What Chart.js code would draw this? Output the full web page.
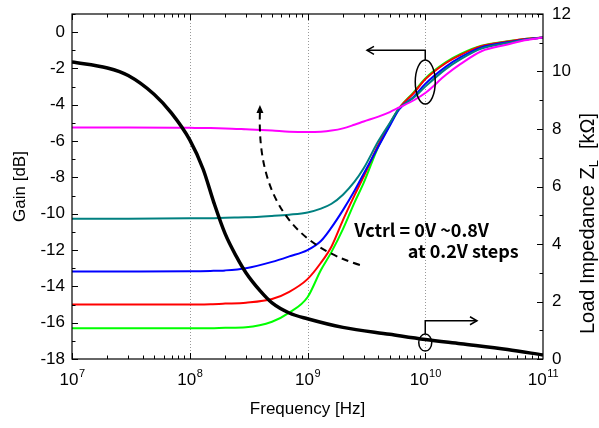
<!DOCTYPE html>
<html>
<head>
<meta charset="utf-8">
<script src="https://cdn.jsdelivr.net/npm/chart.js@4/dist/chart.umd.min.js"></script>
<style>
html, body { margin: 0; padding: 0; background: #fff; }
#wrap { width: 599px; height: 428px; }
</style>
</head>
<body>
<div id="wrap"><canvas id="chartCanvas"></canvas></div>
<script>
// frequency points (Hz) for the gain curves
const freqGain = [1e7, 3e7, 1e8, 1.5e8, 2e8, 3e8, 5e8, 7e8, 1e9, 1.3e9, 1.6e9, 2e9, 2.5e9, 3e9,
                  4e9, 5e9, 6e9, 8e9, 1e10, 1.5e10, 2e10, 3e10, 5e10, 7e10, 1e11];

// gain [dB], one array per Vctrl step
const gainMagenta = [-5.25, -5.25, -5.27, -5.28, -5.3, -5.35, -5.42, -5.48, -5.5, -5.48, -5.42, -5.3, -5.1, -4.92,
                     -4.65, -4.4, -4.15, -3.75, -3.35, -2.35, -1.75, -1.05, -0.68, -0.45, -0.3];
const gainTeal = [-10.27, -10.27, -10.25, -10.25, -10.22, -10.2, -10.12, -10.05, -9.93, -9.72, -9.45, -8.95, -8.25, -7.5,
                  -6.0, -5.0, -4.2, -3.6, -3.0, -2.02, -1.48, -0.9, -0.6, -0.42, -0.3];
const gainBlue = [-13.18, -13.18, -13.17, -13.15, -13.12, -13.0, -12.65, -12.35, -12.0, -11.5, -10.75, -9.8, -8.75, -7.8,
                  -6.3, -5.15, -4.25, -3.55, -2.85, -1.9, -1.38, -0.84, -0.56, -0.4, -0.3];
const gainRed = [-15.0, -15.0, -15.0, -14.98, -14.95, -14.9, -14.7, -14.3, -13.6, -12.7, -11.8, -10.35, -9.0, -7.95,
                 -6.2, -5.05, -4.2, -3.35, -2.6, -1.7, -1.25, -0.77, -0.52, -0.38, -0.3];
const gainGreen = [-16.3, -16.3, -16.3, -16.3, -16.28, -16.25, -15.95, -15.45, -14.6, -13.1, -12.1, -10.85, -9.4, -8.3,
                   -6.3, -5.1, -4.2, -3.3, -2.55, -1.65, -1.2, -0.75, -0.5, -0.37, -0.3];

// load impedance (kOhm)
const freqZ = [1e7, 2e7, 3e7, 5e7, 7e7, 1e8, 1.3e8, 1.6e8, 2e8, 2.5e8, 3e8, 4e8, 5e8, 7e8, 1e9, 2e9, 5e9,
               1e10, 2e10, 5e10, 1e11];
const loadZ = [10.33, 10.12, 9.86, 9.2, 8.55, 7.62, 6.6, 5.45, 4.35, 3.55, 3.0, 2.35, 1.95, 1.6, 1.4, 1.1, 0.86,
               0.68, 0.53, 0.33, 0.14];

const decades = [1e7, 1e8, 1e9, 1e10, 1e11];
const gainTicks = [-18, -16, -14, -12, -10, -8, -6, -4, -2, 0];
const zTicks = [0, 2, 4, 6, 8, 10, 12];

const FONT = 'Arial, "Liberation Sans", sans-serif';

function pts(xs, ys) {
    return xs.map((x, i) => ({ x: x, y: ys[i] }));
}

function line(ctx, x1, y1, x2, y2) {
    ctx.beginPath();
    ctx.moveTo(x1, y1);
    ctx.lineTo(x2, y2);
    ctx.stroke();
}

const decor = {
    id: "decor",
    beforeDatasetsDraw(chart) {
        const { ctx, chartArea: a, scales } = chart;
        ctx.save();
        ctx.strokeStyle = "#999";
        ctx.lineWidth = 1;
        ctx.setLineDash([1, 2]);
        decades.slice(1, -1).forEach(f => {
            const px = Math.round(scales.x.getPixelForValue(f)) + 0.5;
            line(ctx, px, a.top, px, a.bottom);
        });
        ctx.restore();
    },
    afterDraw(chart) {
        const { ctx, chartArea: a, scales } = chart;
        const x = scales.x, g = scales.gain, z = scales.z;
        ctx.save();

        // frame
        ctx.strokeStyle = "#000";
        ctx.lineWidth = 1.2;
        ctx.strokeRect(a.left, a.top, a.right - a.left, a.bottom - a.top);

        // x ticks (inward, top and bottom)
        ctx.lineWidth = 1;
        for (let e = 7; e < 11; e++) {
            for (let k = 1; k <= 9; k++) {
                const px = Math.round(x.getPixelForValue(k * Math.pow(10, e))) + 0.5;
                const len = k === 1 ? 6 : 3.5;
                line(ctx, px, a.bottom, px, a.bottom - len);
                line(ctx, px, a.top, px, a.top + len);
            }
        }
        // y ticks
        for (let v = -18; v <= 1; v++) {
            const py = Math.round(g.getPixelForValue(v)) + 0.5;
            line(ctx, a.left, py, a.left + (v % 2 === 0 ? 6 : 3.5), py);
        }
        for (let v = 0; v <= 12; v++) {
            const py = Math.round(z.getPixelForValue(v)) + 0.5;
            line(ctx, a.right, py, a.right - (v % 2 === 0 ? 6 : 3.5), py);
        }

        // x tick labels 10^n
        ctx.fillStyle = "#000";
        ctx.textBaseline = "alphabetic";
        ctx.textAlign = "left";
        decades.forEach(f => {
            const px = x.getPixelForValue(f);
            const exp = String(Math.round(Math.log10(f)));
            ctx.font = "17px " + FONT;
            const wb = ctx.measureText("10").width;
            ctx.font = "11px " + FONT;
            const we = ctx.measureText(exp).width;
            const start = px - (wb + we) / 2;
            ctx.font = "17px " + FONT;
            ctx.fillText("10", start, a.bottom + 26);
            ctx.font = "11px " + FONT;
            ctx.fillText(exp, start + wb + 0.5, a.bottom + 18);
        });

        // right axis title with subscript
        ctx.save();
        ctx.translate(588, (a.top + a.bottom) / 2 + 37);
        ctx.rotate(-Math.PI / 2);
        ctx.textBaseline = "middle";
        const p1 = "Load Impedance Z", p2 = "L", p3 = "  [k\u03A9]";
        ctx.font = "20px " + FONT;
        const w1 = ctx.measureText(p1).width, w3 = ctx.measureText(p3).width;
        ctx.font = "13px " + FONT;
        const w2 = ctx.measureText(p2).width;
        let sx = -(w1 + w2 + w3) / 2;
        ctx.font = "20px " + FONT;
        ctx.fillText(p1, sx, 0);
        ctx.font = "13px " + FONT;
        ctx.fillText(p2, sx + w1, 6);
        ctx.font = "20px " + FONT;
        ctx.fillText(p3, sx + w1 + w2, 0);
        ctx.restore();

        // gain-curves marker: ellipse + arrow to the left
        ctx.lineWidth = 1.5;
        ctx.strokeStyle = "#000";
        const ex = x.getPixelForValue(1e10), ey = g.getPixelForValue(-2.75);
        ctx.beginPath();
        ctx.ellipse(ex, ey, 10, 22, 0, 0, Math.PI * 2);
        ctx.stroke();
        const ay = g.getPixelForValue(-1.0), ax = x.getPixelForValue(3.2e9);
        ctx.beginPath();
        ctx.moveTo(ex, ey - 22);
        ctx.lineTo(ex, ay);
        ctx.lineTo(ax, ay);
        ctx.stroke();
        ctx.beginPath();
        ctx.moveTo(ax + 7, ay - 4);
        ctx.lineTo(ax, ay);
        ctx.lineTo(ax + 7, ay + 4);
        ctx.stroke();

        // impedance marker: small ellipse + arrow to the right
        const zx = x.getPixelForValue(1e10), zy = z.getPixelForValue(0.57);
        ctx.beginPath();
        ctx.ellipse(zx, zy, 6.5, 8.5, 0, 0, Math.PI * 2);
        ctx.stroke();
        const by = z.getPixelForValue(1.33), bx = x.getPixelForValue(2.75e10);
        ctx.beginPath();
        ctx.moveTo(zx, zy - 8.5);
        ctx.lineTo(zx, by);
        ctx.lineTo(bx, by);
        ctx.stroke();
        ctx.beginPath();
        ctx.moveTo(bx - 7, by - 4);
        ctx.lineTo(bx, by);
        ctx.lineTo(bx - 7, by + 4);
        ctx.stroke();

        // dashed curved arrow (Vctrl direction)
        const s0x = x.getPixelForValue(Math.pow(10, 9.445)), s0y = g.getPixelForValue(-12.82);
        const s1x = x.getPixelForValue(Math.pow(10, 8.596)), s1y = g.getPixelForValue(-4.4);
        const cx = x.getPixelForValue(Math.pow(10, 8.56)), cy = g.getPixelForValue(-11.1);
        ctx.lineWidth = 2;
        ctx.setLineDash([7, 5]);
        ctx.beginPath();
        ctx.moveTo(s0x, s0y);
        ctx.quadraticCurveTo(cx, cy, s1x, s1y);
        ctx.stroke();
        ctx.setLineDash([]);
        ctx.fillStyle = "#000";
        ctx.beginPath();
        ctx.moveTo(s1x, s1y - 7);
        ctx.lineTo(s1x - 3.5, s1y + 1);
        ctx.lineTo(s1x + 3.5, s1y + 1);
        ctx.closePath();
        ctx.fill();

        // label
        ctx.font = 'bold 18px "Noto Sans CJK KR", "Noto Sans", sans-serif';
        ctx.textBaseline = "middle";
        ctx.textAlign = "left";
        ctx.fillText("Vctrl = 0V ~0.8V", x.getPixelForValue(2.5e9), g.getPixelForValue(-10.89));
        ctx.fillText("at 0.2V steps", x.getPixelForValue(7.1e9), g.getPixelForValue(-12.04));

        ctx.restore();
    }
};

const chartCanvas = document.getElementById("chartCanvas");

new Chart(chartCanvas, {
    type: "line",
    data: {
        datasets: [
            { label: "Z", data: pts(freqZ, loadZ), yAxisID: "z", borderColor: "#000", borderWidth: 3.5, order: 0 },
            { label: "0.8V", data: pts(freqGain, gainMagenta), yAxisID: "gain", borderColor: "#ff00ff", borderWidth: 2, order: 1 },
            { label: "0.6V", data: pts(freqGain, gainTeal), yAxisID: "gain", borderColor: "#008080", borderWidth: 2, order: 2 },
            { label: "0.4V", data: pts(freqGain, gainBlue), yAxisID: "gain", borderColor: "#0000ff", borderWidth: 2, order: 3 },
            { label: "0.2V", data: pts(freqGain, gainRed), yAxisID: "gain", borderColor: "#ff0000", borderWidth: 2, order: 4 },
            { label: "0V", data: pts(freqGain, gainGreen), yAxisID: "gain", borderColor: "#00ff00", borderWidth: 2, order: 5 }
        ]
    },
    options: {
        responsive: true,
        maintainAspectRatio: false,
        animation: false,
        elements: {
            point: { radius: 0 },
            line: { cubicInterpolationMode: "monotone", fill: false }
        },
        layout: { padding: { top: 14, left: 0, right: 0, bottom: 0 } },
        plugins: {
            legend: { display: false },
            tooltip: { enabled: false }
        },
        scales: {
            x: {
                type: "logarithmic",
                min: 1e7,
                max: 1e11,
                grid: { display: false, drawTicks: false },
                border: { display: false },
                ticks: { display: false },
                afterBuildTicks: s => { s.ticks = decades.map(v => ({ value: v })); },
                afterFit: s => { s.height = 69; s.paddingLeft = 0; s.paddingRight = 0; },
                title: {
                    display: true,
                    text: "Frequency [Hz]",
                    color: "#000",
                    font: { family: FONT, size: 17 },
                    padding: { top: 0, bottom: 8 }
                }
            },
            gain: {
                type: "linear",
                position: "left",
                min: -18,
                max: 1,
                grid: { display: false, drawTicks: false },
                border: { display: false },
                afterBuildTicks: s => { s.ticks = gainTicks.map(v => ({ value: v })); },
                afterFit: s => { s.width = 72; s.paddingTop = 0; s.paddingBottom = 0; },
                ticks: { color: "#000", font: { family: FONT, size: 17 }, padding: 7 },
                title: {
                    display: true,
                    text: "Gain [dB]",
                    color: "#000",
                    font: { family: FONT, size: 17 },
                    padding: { top: 10, bottom: 0 }
                }
            },
            z: {
                type: "linear",
                position: "right",
                min: 0,
                max: 12,
                grid: { display: false, drawTicks: false },
                border: { display: false },
                afterBuildTicks: s => { s.ticks = zTicks.map(v => ({ value: v })); },
                afterFit: s => { s.width = 56; s.paddingTop = 0; s.paddingBottom = 0; },
                ticks: { color: "#000", font: { family: FONT, size: 17 }, padding: 9 }
            }
        }
    },
    plugins: [decor]
});
</script>
</body>
</html>
